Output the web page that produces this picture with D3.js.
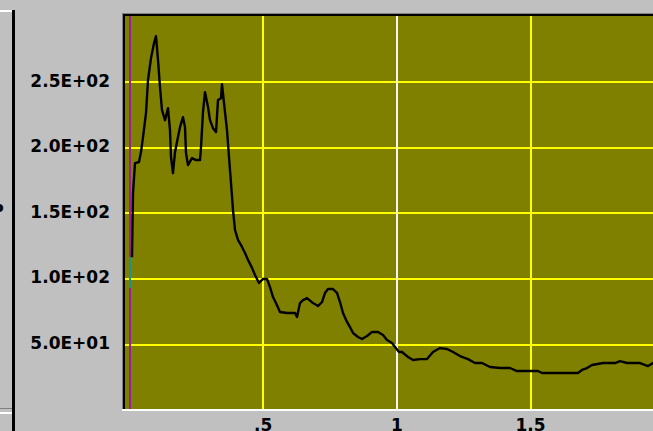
<!DOCTYPE html>
<html>
<head>
<meta charset="utf-8">
<script src="https://cdn.jsdelivr.net/npm/d3@7"></script>
<style>
  body { margin: 0; background: #c0c0c0; overflow: hidden; }
  svg { display: block; }
  .tick text { font-family: "DejaVu Sans", sans-serif; font-weight: bold; font-size: 17px; fill: #000; }
</style>
</head>
<body>
<div id="chart"></div>
<script>
// spectrum trace
const freq = [0.0112, 0.015, 0.0224, 0.0374, 0.0449, 0.0524, 0.0636, 0.0711, 0.0823, 0.0935,
  0.101, 0.1085, 0.116, 0.1234, 0.1346, 0.1458, 0.1533, 0.157, 0.1645, 0.172,
  0.1832, 0.1907, 0.2019, 0.2094, 0.2132, 0.2206, 0.2356, 0.2506, 0.2655, 0.2693,
  0.2767, 0.2842, 0.2917, 0.2954, 0.3029, 0.3141, 0.3254, 0.3328, 0.344, 0.3478,
  0.3553, 0.3665, 0.374, 0.3815, 0.3889, 0.3964, 0.4076, 0.4226, 0.4338, 0.4451,
  0.46, 0.4712, 0.4862, 0.5011, 0.5161, 0.5273, 0.5385, 0.5497, 0.5647, 0.5909,
  0.6208, 0.6283, 0.6395, 0.6507, 0.6657, 0.6881, 0.7068, 0.7218, 0.733, 0.7442,
  0.7629, 0.7779, 0.7891, 0.8003, 0.8153, 0.8265, 0.8377, 0.8564, 0.8714, 0.89,
  0.9087, 0.9312, 0.9499, 0.9648, 0.9835, 0.9948, 1.0097, 1.0209, 1.0434, 1.0621,
  1.0883, 1.1144, 1.1369, 1.1631, 1.1892, 1.2117, 1.2378, 1.2678, 1.2939, 1.3201,
  1.35, 1.3874, 1.4248, 1.451, 1.4996, 1.5295, 1.5445, 1.6118, 1.679, 1.694,
  1.7128, 1.7315, 1.7726, 1.8175, 1.8362, 1.8624, 1.911, 1.941, 1.9596, 1.98];
const amp = [116.2, 165.0, 187.9, 188.7, 196.3, 207.7, 226.0, 251.2, 267.9, 279.3,
  284.7, 266.4, 245.7, 228.2, 220.6, 229.7, 213.0, 192.4, 180.2, 196.2,
  207.7, 215.3, 222.9, 215.3, 195.5, 186.4, 191.7, 190.2, 190.2, 200.1,
  226.8, 242.0, 234.4, 230.6, 220.6, 214.5, 211.5, 235.9, 237.4, 248.1,
  233.6, 213.0, 192.4, 172.5, 152.2, 137.0, 129.4, 124.0, 119.4, 114.1,
  108.0, 102.6, 96.5, 99.6, 99.6, 93.4, 85.8, 81.2, 74.4, 73.6,
  73.6, 70.6, 81.2, 83.5, 85.0, 81.2, 78.9, 82.0, 88.9, 91.9,
  91.9, 88.9, 82.0, 73.6, 66.8, 62.9, 58.4, 55.3, 53.8, 56.1,
  59.1, 59.1, 56.8, 53.0, 50.7, 47.7, 43.9, 43.9, 40.1, 37.8,
  38.5, 38.5, 43.9, 46.9, 46.2, 43.9, 40.8, 38.5, 35.5, 35.5,
  32.5, 31.7, 31.7, 29.4, 29.4, 29.4, 27.9, 27.9, 27.9, 30.2,
  31.7, 34.0, 35.5, 35.5, 37.0, 35.5, 35.5, 33.2, 35.5, 35.5];

const yTicks = [50, 100, 150, 200, 250];
const xTicks = [0.5, 1, 1.5];
const cursorX = 1;          // white cursor line
const markerX = 0.0056;     // purple marker
const tealRange = [93, 116];

const W = 653, H = 431;
const plot = {left: 125, top: 16, right: 660, bottom: 409};

const x = d3.scaleLinear().domain([0, 2]).range([129, 129 + 4 * 133.7]);
const y = d3.scaleLinear().domain([0, 300]).range([409.6, 16]);

function sciFmt(v) {
  const e = Math.floor(Math.log10(v));
  const m = v / Math.pow(10, e);
  return m.toFixed(1) + "E" + (e < 0 ? "-" : "+") + String(Math.abs(e)).padStart(2, "0");
}
function xFmt(v) { return String(v).replace(/^0\./, "."); }

const svg = d3.select("#chart").append("svg").attr("width", W).attr("height", H);

// left panel bits
svg.append("rect").attr("x", 0).attr("y", 10).attr("width", 12).attr("height", 2).attr("fill", "#ffffff");
svg.append("rect").attr("x", 12).attr("y", 10).attr("width", 3).attr("height", H - 10).attr("fill", "#000");
svg.append("rect").attr("x", 0).attr("y", 408).attr("width", 12).attr("height", 1).attr("fill", "#808080");
svg.append("rect").attr("x", 0).attr("y", 412).attr("width", 12).attr("height", 2).attr("fill", "#ffffff");
svg.append("text").attr("x", -8).attr("y", 216).attr("font-family", "DejaVu Sans").attr("font-weight", "bold")
  .attr("font-size", 16).text("P");

// sunken frame
svg.append("rect").attr("x", 122).attr("y", 13).attr("width", W).attr("height", 1).attr("fill", "#808080");
svg.append("rect").attr("x", 122).attr("y", 13).attr("width", 1).attr("height", 397).attr("fill", "#808080");
svg.append("rect").attr("x", 123).attr("y", 14).attr("width", W).attr("height", 2).attr("fill", "#000");
svg.append("rect").attr("x", 123).attr("y", 14).attr("width", 2).attr("height", 395).attr("fill", "#000");
svg.append("rect").attr("x", 122).attr("y", 409).attr("width", W).attr("height", 2).attr("fill", "#ffffff");

svg.append("defs").append("clipPath").attr("id", "clip")
  .append("rect").attr("x", plot.left).attr("y", plot.top)
  .attr("width", plot.right - plot.left).attr("height", plot.bottom - plot.top);

const g = svg.append("g").attr("clip-path", "url(#clip)");
g.append("rect").attr("x", plot.left).attr("y", plot.top)
  .attr("width", plot.right - plot.left).attr("height", plot.bottom - plot.top)
  .attr("fill", "#808000");

// grid
g.append("g").attr("transform", "translate(" + plot.left + ",0)")
  .call(d3.axisLeft(y).tickValues(yTicks).tickSize(-(plot.right - plot.left)).tickFormat(""))
  .call(s => s.select(".domain").remove())
  .selectAll("line").attr("stroke", "#ffff00").attr("stroke-width", 2).attr("shape-rendering", "crispEdges");

g.append("g").attr("transform", "translate(0," + plot.bottom + ")")
  .call(d3.axisBottom(x).tickValues(xTicks).tickSize(-(plot.bottom - plot.top)).tickFormat(""))
  .call(s => s.select(".domain").remove())
  .selectAll("line")
  .attr("stroke", d => d === cursorX ? "#f4f4f4" : "#ffff00")
  .attr("stroke-width", 2).attr("shape-rendering", "crispEdges");

// markers
g.append("line").attr("x1", x(markerX)).attr("x2", x(markerX)).attr("y1", plot.top).attr("y2", plot.bottom)
  .attr("stroke", "#9a1e9a").attr("stroke-width", 2).attr("shape-rendering", "crispEdges");
g.append("line").attr("x1", x(markerX)).attr("x2", x(markerX)).attr("y1", y(tealRange[0])).attr("y2", y(tealRange[1]))
  .attr("stroke", "#1e9090").attr("stroke-width", 2).attr("shape-rendering", "crispEdges");

// trace
const line = d3.line().x((d, i) => x(freq[i])).y(d => y(d));
g.append("path").datum(amp).attr("d", line)
  .attr("fill", "none").attr("stroke", "#000").attr("stroke-width", 2.4)
  .attr("stroke-linejoin", "round");

// axis labels
svg.append("g").attr("transform", "translate(110,-1)")
  .call(d3.axisLeft(y).tickValues(yTicks).tickSize(0).tickPadding(0).tickFormat(sciFmt))
  .call(s => s.select(".domain").remove());

svg.append("g").attr("transform", "translate(0," + plot.bottom + ")")
  .call(d3.axisBottom(x).tickValues(xTicks).tickSize(0).tickPadding(10).tickFormat(xFmt))
  .call(s => s.select(".domain").remove());
</script>
</body>
</html>
